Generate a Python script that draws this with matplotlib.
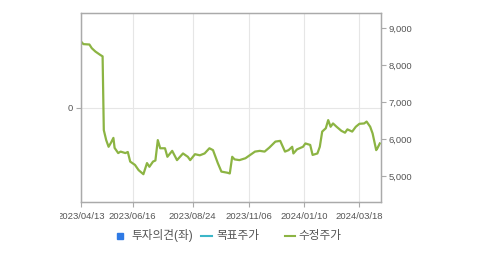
import matplotlib
matplotlib.use("Agg")
import matplotlib.pyplot as plt
from matplotlib.patches import Rectangle
from matplotlib.lines import Line2D

# trading-day index since 2023/04/13 and adjusted close (수정주가)
days = [0, 2, 7, 9, 12, 16, 18, 19, 21, 23, 25, 27, 28, 31, 33, 37, 39, 41, 45, 48,
        52, 55, 57, 60, 62, 64, 66, 70, 72, 76, 80, 85, 89, 91, 95, 99, 103, 107, 110,
        114, 117, 122, 124, 126, 128, 132, 137, 141, 145, 149, 153, 157, 162, 166, 170,
        173, 176, 177, 180, 185, 187, 191, 193, 197, 199, 201, 204, 206, 208, 210, 213,
        217, 220, 222, 226, 229, 232, 236, 238, 241, 243, 246, 247, 249]
prices = [8630, 8560, 8550, 8450, 8360, 8270, 8230, 6240, 5970, 5790, 5900, 6030, 5760,
          5620, 5660, 5620, 5650, 5390, 5300, 5160, 5050, 5350, 5250, 5390, 5420, 5970,
          5750, 5750, 5520, 5680, 5430, 5610, 5520, 5430, 5590, 5560, 5610, 5750, 5700,
          5350, 5120, 5090, 5070, 5520, 5450, 5430, 5480, 5570, 5660, 5680, 5660, 5770,
          5930, 5950, 5660, 5700, 5790, 5610, 5720, 5790, 5880, 5840, 5570, 5610, 5790,
          6200, 6290, 6510, 6330, 6420, 6330, 6220, 6170, 6260, 6200, 6330, 6410, 6420,
          6470, 6330, 6150, 5700, 5750, 5880]

tick_days = [0, 43, 93, 140, 186, 232]
tick_labels = ["2023/04/13", "2023/06/16", "2023/08/24", "2023/11/06", "2024/01/10", "2024/03/18"]
right_ticks = [5000, 6000, 7000, 8000, 9000]
legend_labels = ["투자의견(좌)", "목표주가", "수정주가"]

font = ["Liberation Sans", "Noto Sans CJK KR", "DejaVu Sans"]
plt.rcParams["font.family"] = font

fig = plt.figure(figsize=(4.79, 2.54), dpi=100)
ax = fig.add_axes([81 / 479, 1 - 202 / 254, 300 / 479, 189 / 254])
ax2 = ax.twinx()

ax.set_ylim(-1, 1)
ax.set_yticks([0])
ax.set_yticklabels(["0"])
ax.set_xlim(0, 250)
ax.set_xticks(tick_days)
ax.set_xticklabels(tick_labels)
ax.grid(True, color="#e6e6e6", lw=0.8)
ax.set_axisbelow(True)

ax2.plot(days, prices, color="#8cb443", lw=1.6)
ax2.set_ylim(4300, 9400)
ax2.set_yticks(right_ticks)
ax2.set_yticklabels([f"{v:,}" for v in right_ticks])

for a in (ax, ax2):
    for s in a.spines.values():
        s.set_color("#aaaaaa")
        s.set_linewidth(0.9)
    a.tick_params(colors="#aaaaaa", labelcolor="#555555", labelsize=6.8, length=3.5, width=0.8, pad=2)
ax.tick_params(axis="x", pad=4)

# the first date label is cut at the left edge of the chart area
ax.get_xticklabels()[0].set_clip_on(True)
ax.get_xticklabels()[0].set_clip_box(
    matplotlib.transforms.Bbox.from_extents(60, 0, 479, 254))

# legend
fig.add_artist(Rectangle((117 / 479, 1 - 239 / 254), 6 / 479, 6 / 254, color="#2f7ae5",
                         transform=fig.transFigure))
fig.text(131 / 479, 1 - 236 / 254, legend_labels[0], fontsize=8.4, color="#555555", va="center")
fig.add_artist(Line2D([201 / 479, 212 / 479], [1 - 236 / 254] * 2, color="#3cb6c8", lw=1.5,
                      transform=fig.transFigure))
fig.text(216 / 479, 1 - 236 / 254, legend_labels[1], fontsize=8.4, color="#555555", va="center")
fig.add_artist(Line2D([285 / 479, 295 / 479], [1 - 236 / 254] * 2, color="#8cb443", lw=1.5,
                      transform=fig.transFigure))
fig.text(298 / 479, 1 - 236 / 254, legend_labels[2], fontsize=8.4, color="#555555", va="center")

fig.savefig("out.png", dpi=100)
